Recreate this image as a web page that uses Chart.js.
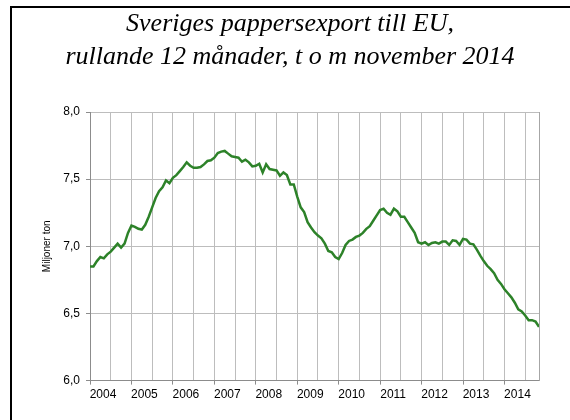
<!DOCTYPE html>
<html>
<head>
<meta charset="utf-8">
<script src="https://cdn.jsdelivr.net/npm/chart.js@4"></script>
<style>
  body { margin: 0; background: #fff; }
  canvas { display: block; }
</style>
</head>
<body>
<canvas id="chart" width="570" height="420"></canvas>
<script>
// år som visas på x-axeln (en etikett per år)
const yearLabels = ["2004", "2005", "2006", "2007", "2008", "2009", "2010", "2011", "2012", "2013", "2014"];

// rullande 12 månader, miljoner ton, jan 2004 - nov 2014
const exportValues = [
  6.85, 6.85, 6.89, 6.92, 6.91, 6.94, 6.96, 6.99, 7.02, 6.99, 7.02, 7.10,   // 2004
  7.155, 7.145, 7.13, 7.125, 7.16, 7.22, 7.29, 7.36, 7.41, 7.44, 7.49, 7.47, // 2005
  7.51, 7.53, 7.56, 7.59, 7.625, 7.60, 7.585, 7.585, 7.59, 7.61, 7.635, 7.64, // 2006
  7.66, 7.695, 7.705, 7.71, 7.69, 7.67, 7.665, 7.66, 7.63, 7.645, 7.625, 7.595, // 2007
  7.60, 7.615, 7.55, 7.61, 7.575, 7.57, 7.565, 7.525, 7.55, 7.53, 7.46, 7.46, // 2008
  7.37, 7.29, 7.255, 7.18, 7.14, 7.105, 7.08, 7.06, 7.02, 6.965, 6.955, 6.92, // 2009
  6.905, 6.95, 7.01, 7.04, 7.05, 7.07, 7.08, 7.10, 7.13, 7.15, 7.19, 7.23,  // 2010
  7.27, 7.28, 7.25, 7.235, 7.28, 7.26, 7.22, 7.22, 7.18, 7.14, 7.10, 7.03,  // 2011
  7.02, 7.03, 7.01, 7.025, 7.03, 7.02, 7.035, 7.035, 7.01, 7.045, 7.04, 7.01, // 2012
  7.055, 7.05, 7.02, 7.015, 6.975, 6.93, 6.89, 6.855, 6.83, 6.80, 6.75, 6.72, // 2013
  6.68, 6.65, 6.62, 6.58, 6.53, 6.515, 6.485, 6.45, 6.45, 6.44, 6.40          // 2014
];

const yTickValues = [6.0, 6.5, 7.0, 7.5, 8.0];

const lastIndex = exportValues.length - 1;

// svart ram runt diagrammet (vänster och överkant)
const framePlugin = {
  id: "frame",
  afterDraw(chart) {
    const ctx = chart.ctx;
    ctx.save();
    ctx.strokeStyle = "#000";
    ctx.lineWidth = 2;
    ctx.beginPath();
    ctx.moveTo(11, 420);
    ctx.lineTo(11, 7);
    ctx.lineTo(570, 7);
    ctx.stroke();
    ctx.restore();
  }
};

const ctx = document.getElementById("chart").getContext("2d");

new Chart(ctx, {
  type: "line",
  data: {
    datasets: [{
      label: "Export",
      data: exportValues.map((v, i) => ({ x: i, y: v })),
      borderColor: "#2d8229",
      borderWidth: 2.5,
      pointRadius: 0,
      fill: false,
      tension: 0
    }]
  },
  options: {
    responsive: false,
    animation: false,
    devicePixelRatio: 1,
    layout: { padding: { top: 8, left: 41, right: 31, bottom: 15 } },
    plugins: {
      legend: { display: false },
      tooltip: { enabled: false },
      title: {
        display: true,
        text: ["Sveriges pappersexport till EU,", "rullande 12 månader, t o m november 2014"],
        color: "#000",
        font: { family: "'Liberation Serif', 'Times New Roman', serif", size: 26, style: "italic", weight: "normal", lineHeight: 1.25 },
        padding: { top: 0, bottom: 39 }
      }
    },
    scales: {
      x: {
        type: "linear",
        min: 0,
        max: lastIndex,
        grid: {
          color: "#bdbdbd",
          lineWidth: 1,
          tickLength: 4,
          // streck under axeln bara vid årsskiften
          tickColor: (c) => (c.tick && c.tick.value % 12 === 0) ? "#8c8c8c" : "rgba(0,0,0,0)"
        },
        border: { color: "#8c8c8c", width: 1 },
        ticks: {
          stepSize: 6,
          includeBounds: false,
          autoSkip: false,
          maxRotation: 0,
          labelOffset: 13,
          padding: 3,
          color: "#000",
          font: { family: "'Liberation Sans', Arial, sans-serif", size: 12 },
          callback: (v) => (v % 12 === 0) ? yearLabels[v / 12] : ""
        }
      },
      y: {
        min: 6,
        max: 8,
        afterBuildTicks: (scale) => {
          scale.ticks = yTickValues.map(v => ({ value: v }));
        },
        afterFit: (scale) => { scale.width = 49; },
        grid: { color: "#bdbdbd", lineWidth: 1, tickLength: 4, tickColor: "#8c8c8c" },
        border: { color: "#8c8c8c", width: 1 },
        ticks: {
          padding: 6,
          color: "#000",
          font: { family: "'Liberation Sans', Arial, sans-serif", size: 12 },
          callback: (v) => v.toFixed(1).replace(".", ",")
        },
        title: {
          display: true,
          text: "Miljoner ton",
          color: "#000",
          padding: 0,
          font: { family: "'Liberation Sans', Arial, sans-serif", size: 10 }
        }
      },
      // högerkant på ritytan
      yRight: {
        position: "right",
        min: 6,
        max: 8,
        afterFit: (scale) => { scale.width = 0; },
        grid: { display: false },
        ticks: { display: false },
        border: { display: true, color: "#a6a6a6", width: 1 }
      }
    }
  },
  plugins: [framePlugin]
});
</script>
</body>
</html>
